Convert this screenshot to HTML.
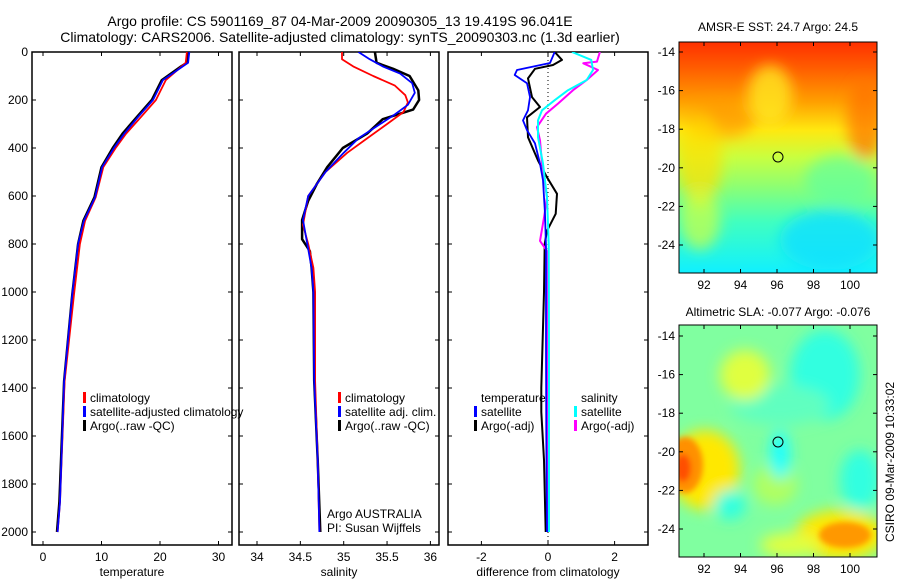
<!DOCTYPE html>
<html><head><meta charset="utf-8">
<style>
body{margin:0;background:#fff;font-family:"Liberation Sans",sans-serif;}
svg text{font-family:"Liberation Sans",sans-serif;fill:#000;}
</style></head><body>
<svg id="chart" width="900" height="580" viewBox="0 0 900 580">
<defs>
<filter id="blur6"><feGaussianBlur stdDeviation="7"/></filter>
<filter id="blur3"><feGaussianBlur stdDeviation="3"/></filter>
<clipPath id="clipSST"><rect x="679" y="42" width="198" height="231"/></clipPath>
<clipPath id="clipSLA"><rect x="679" y="325" width="198" height="232"/></clipPath>
<clipPath id="cp1"><rect x="32" y="52" width="200" height="493"/></clipPath>
<clipPath id="cp2"><rect x="239" y="52" width="200" height="493"/></clipPath>
<clipPath id="cp3"><rect x="448" y="52" width="200" height="493"/></clipPath>
<linearGradient id="sstGrad" x1="0" y1="0" x2="0" y2="1">
<stop offset="0" stop-color="#ff3000"/><stop offset="0.12" stop-color="#ff6000"/>
<stop offset="0.26" stop-color="#ffa000"/><stop offset="0.38" stop-color="#ffe810"/>
<stop offset="0.5" stop-color="#c8ff40"/><stop offset="0.62" stop-color="#90ff70"/>
<stop offset="0.78" stop-color="#40ffc0"/><stop offset="1" stop-color="#10f0ff"/>
</linearGradient>
</defs>
<g>
<text x="340" y="26" font-size="14" text-anchor="middle">Argo profile: CS 5901169_87 04-Mar-2009 20090305_13 19.419S 96.041E</text>
<text x="340" y="42" font-size="14" text-anchor="middle">Climatology: CARS2006. Satellite-adjusted climatology: synTS_20090303.nc (1.3d earlier)</text>
</g>
<g id="panels"></g>
<g>
<text x="778" y="31" font-size="12" text-anchor="middle">AMSR-E SST: 24.7 Argo: 24.5</text>
<g clip-path="url(#clipSST)">
<rect x="679" y="42" width="198" height="231" fill="url(#sstGrad)"/>
<g filter="url(#blur6)">
<ellipse cx="770" cy="95" rx="22" ry="30" fill="#ffe820" opacity="0.8"/>
<ellipse cx="865" cy="120" rx="18" ry="40" fill="#ff7000" opacity="0.7"/>
<ellipse cx="720" cy="120" rx="35" ry="18" fill="#ff9000" opacity="0.6"/>
<ellipse cx="700" cy="160" rx="22" ry="45" fill="#ffe000" opacity="0.7"/>
<ellipse cx="840" cy="180" rx="35" ry="25" fill="#60ffa0" opacity="0.7"/>
<ellipse cx="830" cy="240" rx="50" ry="30" fill="#10e0ff" opacity="0.8"/>
<ellipse cx="700" cy="220" rx="20" ry="30" fill="#d0ff40" opacity="0.7"/>
</g></g>
<rect x="679" y="42" width="198" height="231" fill="none" stroke="#000"/>
<circle cx="778" cy="157" r="5" fill="none" stroke="#000"/>
<g id="sstAxes"></g>
</g>
<g>
<text x="778" y="316" font-size="12" text-anchor="middle">Altimetric SLA: -0.077 Argo: -0.076</text>
<g clip-path="url(#clipSLA)">
<rect x="679" y="325" width="198" height="232" fill="#80ffa0"/>
<g filter="url(#blur6)">
<ellipse cx="825" cy="375" rx="35" ry="45" fill="#30ffe0"/>
<ellipse cx="780" cy="405" rx="50" ry="20" fill="#60ffc0"/>
<ellipse cx="745" cy="375" rx="25" ry="25" fill="#e0ff40"/>
<ellipse cx="705" cy="470" rx="35" ry="40" fill="#ffe800"/>
<ellipse cx="775" cy="485" rx="22" ry="20" fill="#b0ff60"/>
<ellipse cx="780" cy="455" rx="10" ry="25" fill="#20ffff"/>
<ellipse cx="860" cy="480" rx="20" ry="30" fill="#30ffe0"/>
<ellipse cx="730" cy="505" rx="16" ry="15" fill="#30ffe0"/>
<ellipse cx="840" cy="535" rx="45" ry="25" fill="#ffe800"/>
<ellipse cx="790" cy="545" rx="30" ry="12" fill="#e0ff40"/>
</g>
<g filter="url(#blur3)">
<ellipse cx="685" cy="465" rx="18" ry="28" fill="#ff9000"/>
<ellipse cx="683" cy="468" rx="8" ry="14" fill="#ff5000"/>
<ellipse cx="845" cy="535" rx="26" ry="13" fill="#ff9800"/>
</g></g>
<rect x="679" y="325" width="198" height="232" fill="none" stroke="#000"/>
<circle cx="778" cy="442" r="5" fill="none" stroke="#000"/>
<g id="slaAxes"></g>
</g>
<text transform="translate(894,462) rotate(-90)" font-size="12" text-anchor="middle">CSIRO 09-Mar-2009 10:33:02</text>
</svg>
<script>
// ---- data ----
const depthTicks = [0,200,400,600,800,1000,1200,1400,1600,1800,2000];
const tempTicks = [0,10,20,30];
const salTicks = [34,34.5,35,35.5,36];
const diffTicks = [-2,0,2];
const tempDepth = [0,45,60,117,200,272,340,397,480,605,703,800,1010,1372,1874,2000];
const tempArgo  = [24.8,24.6,23.6,20.3,18.6,16.0,13.6,12.0,10.0,8.8,6.9,6.0,5.0,3.6,2.8,2.4];
const tempClim  = [24.6,24.4,23.7,21.0,19.3,16.7,14.2,12.5,10.3,9.0,7.2,6.3,5.3,3.7,2.9,2.5];
const tempSat   = [25.0,24.8,23.9,20.5,18.8,16.2,13.9,12.2,10.1,8.9,7.0,6.0,5.0,3.6,2.9,2.5];
const salArgoD = [0,45,70,100,160,200,240,280,340,400,480,550,620,700,780,830,900,1000,1370,1700,2000];
const salArgo  = [35.36,35.38,35.57,35.76,35.86,35.87,35.80,35.45,35.27,34.99,34.81,34.69,34.59,34.52,34.52,34.61,34.63,34.65,34.66,34.70,34.73];
const salSatD = [0,30,60,90,130,170,220,260,310,360,420,500,600,700,800,900,1000,1370,1700,2000];
const salSat  = [35.17,35.30,35.45,35.65,35.79,35.82,35.74,35.59,35.38,35.17,35.00,34.79,34.59,34.53,34.58,34.63,34.65,34.66,34.70,34.72];
const salClimD = [0,30,60,100,140,180,210,250,300,360,420,500,600,720,800,900,1000,1370,1700,2000];
const salClim  = [34.98,34.98,35.11,35.34,35.59,35.71,35.74,35.69,35.50,35.27,35.04,34.79,34.59,34.53,34.59,34.65,34.67,34.67,34.70,34.72];
const dTSatD = [0,46,75,96,130,188,243,285,326,381,465,535,674,815,1200,1600,2000];
const dTSat  = [0.2,0.06,-0.93,-1.0,-0.63,-0.54,-0.6,-0.75,-0.63,-0.39,-0.24,-0.15,-0.09,-0.06,-0.06,-0.05,-0.03];
const dTArgoD = [0,33,54,70,110,188,229,272,355,452,522,591,674,745,800,1000,1400,1500,1700,2000];
const dTArgo  = [0.2,0.42,0.15,-0.39,-0.6,-0.48,-0.24,-0.63,-0.6,-0.3,-0.03,0.27,0.23,-0.03,-0.1,-0.12,-0.2,-0.2,-0.12,-0.07];
const dSSatD = [0,33,75,117,159,201,243,285,355,465,605,800,1200,2000];
const dSSat  = [0.72,1.3,1.35,1.16,0.6,0.2,-0.18,-0.3,-0.3,-0.15,-0.03,0.02,0.03,0.03];
const dSArgoD = [0,40,47,75,117,159,215,257,313,368,465,605,690,787,829,1000,1400,1700,2000];
const dSArgo  = [1.56,1.47,1.06,1.5,1.16,0.75,0.3,-0.06,-0.33,-0.24,-0.18,-0.03,-0.12,-0.24,-0.03,-0.02,0.0,-0.02,0.0];
const lonTicks = [92,94,96,98,100];
const latTicks = [-14,-16,-18,-20,-22,-24];

// ---- axes ----
const NS='http://www.w3.org/2000/svg';
const yD = d => 52 + 0.24*d;
const xT = t => 43 + 5.85*t;
const xS = s => 257 + 86.7*(s-34);
const xDf = v => 548 + 33.3*v;
const root = document.getElementById('panels');
function mk(tag, attrs, parent){const e=document.createElementNS(NS,tag);for(const k in attrs)e.setAttribute(k,attrs[k]);(parent||root).appendChild(e);return e;}
function txt(x,y,s,anchor,parent,size){const e=mk('text',{x:x,y:y,'font-size':size||12,'text-anchor':anchor||'middle'},parent);e.textContent=s;return e;}

const panels=[
 {x0:32,x1:232,ticks:tempTicks,fx:xT,label:'temperature',name:'temperature-panel',yl:true},
 {x0:239,x1:439,ticks:salTicks,fx:xS,label:'salinity',name:'salinity-panel'},
 {x0:448,x1:648,ticks:diffTicks,fx:xDf,label:'difference from climatology',name:'difference-panel'}];
panels.forEach((p,i)=>{
 const g=mk('g',{});
 
 
 mk('rect',{x:p.x0,y:52,width:p.x1-p.x0,height:493,fill:'none',stroke:'#000','stroke-width':1.5},g);
 depthTicks.forEach(d=>{
  mk('line',{x1:p.x0,x2:p.x0+4,y1:yD(d),y2:yD(d),stroke:'#000'},g);
  mk('line',{x1:p.x1,x2:p.x1-4,y1:yD(d),y2:yD(d),stroke:'#000'},g);
  if(p.yl){const t=txt(p.x0-4,yD(d)+4,String(d),'end',g);
   
   }
 });
 p.ticks.forEach(v=>{
  const x=p.fx(v);
  mk('line',{x1:x,x2:x,y1:545,y2:541,stroke:'#000'},g);
  mk('line',{x1:x,x2:x,y1:52,y2:56,stroke:'#000'},g);
  const t=txt(x,561,String(v),'middle',g);
  
  
 });
 const xl=txt((p.x0+p.x1)/2,576,p.label,'middle',g);
 
 
});
const zl=mk('line',{x1:xDf(0),x2:xDf(0),y1:52,y2:545,stroke:'#000','stroke-dasharray':'1,3'});



function series(ds,vs,fx,color,w,clip,name){
 const pts=ds.map((d,i)=>fx(vs[i]).toFixed(1)+','+yD(d).toFixed(1)).join(' ');
 const l=mk('polyline',{points:pts,fill:'none',stroke:color,'stroke-width':w,'clip-path':'url(#'+clip+')','stroke-linejoin':'round'});
 
 
}
series(tempDepth,tempArgo,xT,'#000',2.5,'cp1','temp-argo-line');
series(tempDepth,tempClim,xT,'#f00',1.8,'cp1','temp-climatology-line');
series(tempDepth,tempSat,xT,'#00f',1.8,'cp1','temp-satellite-line');
series(salArgoD,salArgo,xS,'#000',2.5,'cp2','salinity-argo-line');
series(salClimD,salClim,xS,'#f00',1.8,'cp2','salinity-climatology-line');
series(salSatD,salSat,xS,'#00f',1.8,'cp2','salinity-satellite-line');
series(dTArgoD,dTArgo,xDf,'#000',2,'cp3','temp-diff-argo-line');
series(dSArgoD,dSArgo,xDf,'#f0f',2,'cp3','sal-diff-argo-line');
series(dSSatD,dSSat,xDf,'#0ff',2,'cp3','sal-diff-satellite-line');
series(dTSatD,dTSat,xDf,'#00f',1.8,'cp3','temp-diff-satellite-line');

function legend(x,y,color,label,name){
 const g=mk('g',{});
 
 
 if(color) mk('rect',{x:x,y:y-10,width:3,height:11,fill:color},g);
 txt(x+7,y,label,'start',g);
}
legend(83,402,'#f00','climatology','legend-climatology');
legend(83,416,'#00f','satellite-adjusted climatology','legend-satellite-adjusted');
legend(83,430,'#000','Argo(..raw -QC)','legend-argo');
legend(338,402,'#f00','climatology','legend-sal-climatology');
legend(338,416,'#00f','satellite adj. clim.','legend-sal-satellite');
legend(338,430,'#000','Argo(..raw -QC)','legend-sal-argo');
legend(474,402,null,'temperature','legend-temperature-header');
legend(474,416,'#00f','satellite','legend-temp-satellite');
legend(474,430,'#000','Argo(-adj)','legend-temp-argo');
legend(574,402,null,'salinity','legend-salinity-header');
legend(574,416,'#0ff','satellite','legend-sal-satellite-diff');
legend(574,430,'#f0f','Argo(-adj)','legend-sal-argo-diff');
const a1=txt(327,518,'Argo AUSTRALIA','start');


const a2=txt(327,532,'PI: Susan Wijffels','start');



function mapAxes(gid,y0,y1,latRef){
 const g=document.getElementById(gid);
 const xL=lon=>704+18.25*(lon-92);
 const yL=lat=>latRef+19.3*(-14-lat);
 lonTicks.forEach(v=>{
  mk('line',{x1:xL(v),x2:xL(v),y1:y1,y2:y1-4,stroke:'#000'},g);
  mk('line',{x1:xL(v),x2:xL(v),y1:y0,y2:y0+4,stroke:'#000'},g);
  const t=txt(xL(v),y1+16,String(v),'middle',g);
  
  
 });
 latTicks.forEach(v=>{
  mk('line',{x1:679,x2:683,y1:yL(v),y2:yL(v),stroke:'#000'},g);
  mk('line',{x1:877,x2:873,y1:yL(v),y2:yL(v),stroke:'#000'},g);
  const t=txt(675,yL(v)+4,String(v),'end',g);
  
  
 });
}
mapAxes('sstAxes',42,273,52);
mapAxes('slaAxes',325,557,336);
</script>
</body></html>
